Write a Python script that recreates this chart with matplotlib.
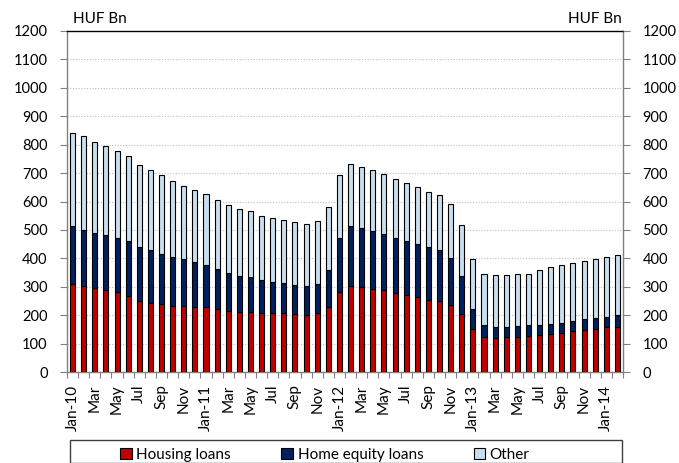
import matplotlib
matplotlib.use("Agg")
import matplotlib.pyplot as plt
from matplotlib.patches import Rectangle, Patch
import numpy as np

plt.rcParams['font.family'] = ['Lato', 'DejaVu Sans']

months = ["Jan-10", "Feb", "Mar", "Apr", "May", "Jun", "Jul", "Aug", "Sep", "Oct", "Nov", "Dec",
          "Jan-11", "Feb", "Mar", "Apr", "May", "Jun", "Jul", "Aug", "Sep", "Oct", "Nov", "Dec",
          "Jan-12", "Feb", "Mar", "Apr", "May", "Jun", "Jul", "Aug", "Sep", "Oct", "Nov", "Dec",
          "Jan-13", "Feb", "Mar", "Apr", "May", "Jun", "Jul", "Aug", "Sep", "Oct", "Nov", "Dec",
          "Jan-14", "Feb"]

housing = [311, 304, 295, 288, 280, 268, 250, 243, 240, 234, 233, 229,
           227, 220, 215, 211, 211, 206, 206, 206, 205, 202, 208, 230,
           281, 304, 299, 292, 287, 278, 271, 264, 255, 250, 236, 205,
           152, 123, 121, 122, 124, 125, 129, 132, 138, 143, 147, 153,
           157, 160]
equity = [204, 197, 194, 195, 193, 192, 189, 185, 176, 172, 163, 158,
          151, 144, 135, 128, 125, 117, 110, 106, 100, 99, 103, 130,
          189, 211, 206, 205, 197, 195, 191, 185, 185, 180, 166, 132,
          68, 42, 38, 38, 38, 39, 37, 38, 36, 38, 38, 36,
          37, 39]
other = [326, 329, 321, 312, 306, 301, 290, 283, 278, 267, 259, 252,
         248, 240, 237, 234, 230, 227, 226, 224, 224, 219, 219, 220,
         222, 218, 218, 214, 212, 205, 204, 201, 193, 193, 190, 180,
         178, 180, 182, 183, 183, 182, 192, 200, 204, 204, 207, 210,
         212, 213]

series_names = ["Housing loans", "Home equity loans", "Other"]
colors = ["#C00000", "#002060", "#C9DFEF"]
yticks = list(range(0, 1201, 100))
unit = "HUF Bn"

W, H = 679, 463
fig = plt.figure(figsize=(W / 100, H / 100), dpi=100)
L, R, T, B = 67, 623, 31, 372
ax = fig.add_axes([L / W, 1 - B / H, (R - L) / W, (B - T) / H])

x = np.arange(len(months))
h = np.array(housing)
e = np.array(equity)
o = np.array(other)
bw = 0.45
ax.bar(x, h, bw, color=colors[0], edgecolor="black", linewidth=0.8, zorder=3)
ax.bar(x, e, bw, bottom=h, color=colors[1], edgecolor="black", linewidth=0.8, zorder=3)
ax.bar(x, o, bw, bottom=h + e, color=colors[2], edgecolor="black", linewidth=0.8, zorder=3)

ax.set_xlim(-0.5, len(months) - 0.5)
ax.set_ylim(0, 1200)
ax.set_yticks(yticks)
ax.set_yticklabels([str(v) for v in yticks])
for yv in yticks[1:-1]:
    ax.axhline(yv, color="#BFBFBF", linestyle=(0, (1, 1.5)), linewidth=0.8, zorder=1)

ax.set_xticks(x[::2])
ax.set_xticklabels(months[::2], rotation=90, fontsize=11)
ax.set_xticks(np.arange(-0.5, len(months), 1), minor=True)
ax.tick_params(axis="x", which="major", length=0, pad=9)
ax.tick_params(axis="x", which="minor", length=4, color="#808080", width=0.8)
ax.tick_params(axis="y", which="major", length=5, color="#808080", width=0.8,
               labelsize=10.5, pad=9, direction="out")

for s in ["left", "right", "bottom"]:
    ax.spines[s].set_color("#808080")
    ax.spines[s].set_linewidth(1.0)
ax.spines["top"].set_color("black")
ax.spines["top"].set_linewidth(1.0)

ax2 = ax.twinx()
ax2.set_ylim(0, 1200)
ax2.set_yticks(yticks)
ax2.set_yticklabels([str(v) for v in yticks])
ax2.tick_params(axis="y", length=5, color="#808080", width=0.8, labelsize=10.5, pad=9)
for s in ax2.spines.values():
    s.set_visible(False)

fig.text(73 / W, 1 - 19 / H, unit, fontsize=11, ha="left", va="center")
fig.text(622 / W, 1 - 19 / H, unit, fontsize=11, ha="right", va="center")

# legend frame
fig.patches.append(Rectangle((70 / W, 0), (622 - 70) / W, 1 - 440 / H,
                             transform=fig.transFigure, fill=False,
                             edgecolor="#404040", linewidth=1.0))
handles = [Patch(facecolor=c, edgecolor="black", linewidth=0.8) for c in colors]
fig.legend(handles, series_names, ncol=3, loc="center",
           bbox_to_anchor=(325 / W, 1 - 455 / H), frameon=False, fontsize=11,
           handlelength=0.75, handleheight=0.75, handletextpad=0.3,
           columnspacing=3.3, borderpad=0)

fig.savefig("out.png", dpi=100)
